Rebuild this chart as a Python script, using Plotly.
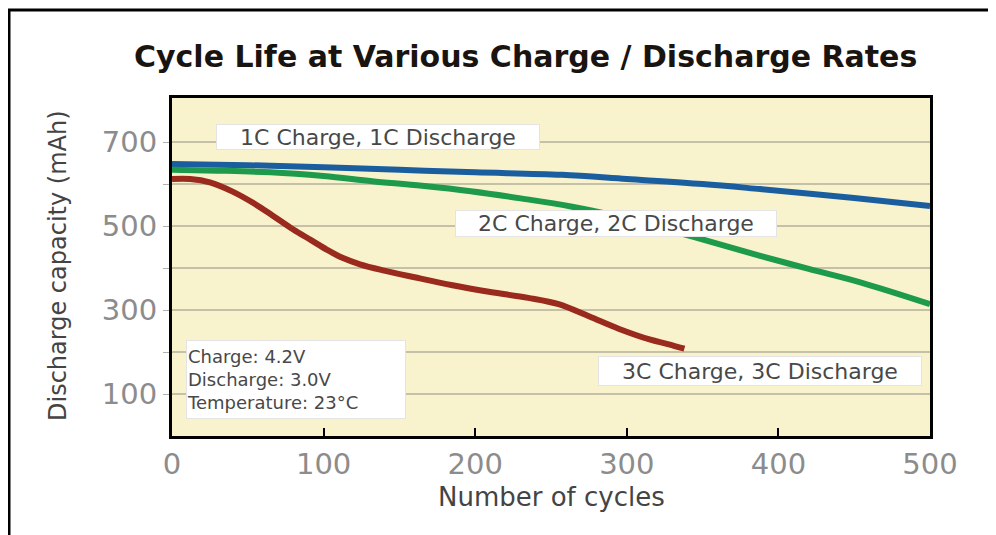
import plotly.graph_objects as go

# cycles vs discharge capacity (mAh)
c1_cycles = [0, 50, 100, 150, 200, 257, 300, 350, 388, 450, 500]
c1_mah = [648, 645, 640, 634, 628, 622, 612, 600, 588, 567, 548]

c2_cycles = [0, 30, 65, 100, 132, 165, 197, 230, 264, 300, 344, 388, 420, 454, 500]
c2_mah = [634, 632, 628, 619, 607, 596, 583, 566, 546, 518, 474, 429, 398, 366, 314]

c3_cycles = [0, 12, 25, 40, 55, 66, 80, 92, 102, 112, 124, 140, 160, 185, 210, 235, 255,
             275, 295, 315, 327, 338]
c3_mah = [612, 612, 604, 582, 552, 526, 492, 466, 444, 425, 409, 394, 378, 359, 343, 329, 314,
          285, 255, 230, 219, 208]

y_ticks = [100, 200, 300, 400, 500, 600, 700]
y_ticktext = ["100", "", "300", "", "500", "", "700"]
x_ticks = [0, 100, 200, 300, 400, 500]

FONT = "DejaVu Sans"
OFF = 8                      # the page body has an 8px margin, so shift everything up/left
W, H = 996, 535
L, T = 172 - OFF, 98 - OFF   # plot area in page pixels: x 172..930, y 98..436
R, B = W - (930 - OFF), H - (436 - OFF)
PW, PH = W - L - R, H - T - B


def px(x):   # page x pixel -> paper x
    return (x - OFF - L) / PW


def py(y):   # page y pixel -> paper y
    return 1 - (y - OFF - T) / PH


fig = go.Figure()
for xs, ys, col, nm in [(c1_cycles, c1_mah, "#1b5e9f", "1C"),
                        (c2_cycles, c2_mah, "#1d9a4b", "2C"),
                        (c3_cycles, c3_mah, "#9a2a1e", "3C")]:
    fig.add_trace(go.Scatter(x=xs, y=ys, mode="lines", name=nm,
                             line=dict(color=col, width=6, shape="spline", smoothing=1.0)))


def box(text, x, y, w, h, size=22, align="center"):
    # label boxes sit in data space; width/height fix the white box size
    fig.add_annotation(x=x, y=y, xref="x", yref="y", text=text, showarrow=False,
                       font=dict(family=FONT, size=size, color="#484848"),
                       bgcolor="white", bordercolor="#e4e4e4", borderwidth=1, borderpad=0,
                       width=w, height=h, align=align)


box("1C Charge, 1C Discharge", 136, 713, 322, 24)
box("2C Charge, 2C Discharge", 293, 505, 320, 25)
box("3C Charge, 3C Discharge", 388, 155, 322, 28)
box("Charge: 4.2V<br>Discharge: 3.0V<br>Temperature: 23°C", 82, 135, 218, 77, size=18, align="left")

fig.add_annotation(text="Cycle Life at Various Charge / Discharge Rates", xref="paper", yref="paper",
                   x=px(525), y=py(57), showarrow=False, xanchor="center", yanchor="middle",
                   font=dict(family="DejaVu Sans", size=30, color="#1a1410", weight="bold"))
fig.add_annotation(text="Number of cycles", xref="paper", yref="paper", x=px(551), y=py(497),
                   showarrow=False, yanchor="middle", font=dict(family=FONT, size=26, color="#444"))
fig.add_annotation(text="Discharge capacity (mAh)", xref="paper", yref="paper", x=px(58), y=py(265),
                   textangle=-90, showarrow=False, xanchor="center", yanchor="middle",
                   font=dict(family=FONT, size=24, color="#444"))

# outer frame of the picture (only top and left edges fall inside the image)
fig.add_shape(type="rect", xref="paper", yref="paper", x0=px(9), x1=1.4, y0=-0.6, y1=py(10),
              line=dict(color="black", width=3), fillcolor="rgba(0,0,0,0)")

fig.update_layout(
    width=W, height=H, margin=dict(l=L, r=R, t=T, b=B), showlegend=False,
    paper_bgcolor="white", plot_bgcolor="#f8f3cd",
    xaxis=dict(range=[0, 500], tickvals=x_ticks, showgrid=False, zeroline=False,
               showline=True, linecolor="black", linewidth=3, mirror=True,
               ticks="inside", ticklen=8, tickwidth=2, tickcolor="black",
               tickfont=dict(family=FONT, size=29, color="#8c8c8c")),
    yaxis=dict(range=[0, 805], tickvals=y_ticks, ticktext=y_ticktext, showgrid=True,
               gridcolor="#c4c1a8", gridwidth=1.5, zeroline=False,
               showline=True, linecolor="black", linewidth=3, mirror=True,
               ticks="outside", ticklen=6, tickcolor="#b0b0b0",
               tickfont=dict(family=FONT, size=29, color="#8c8c8c")),
)

fig.write_html("out.html")
